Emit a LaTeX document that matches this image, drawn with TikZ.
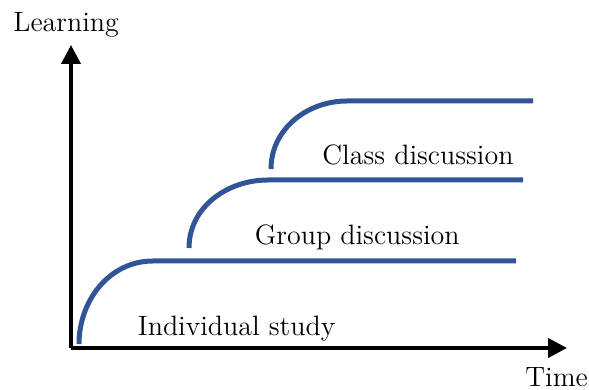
\documentclass[tikz,border=0pt]{standalone}
\usepackage{tikz}
\usetikzlibrary{arrows.meta}
\definecolor{curveblue}{RGB}{47,85,151}
\tikzset{
    axis/.style={
        draw=black,
        line width=2pt, % 坐标轴加粗
        -{Triangle[length=9.5pt,width=9.5pt]}
    },
    curve/.style={
        draw=curveblue, % 曲线颜色
        line width=2.5pt
    },
    label/.style={
        inner sep=0,
        anchor=base west,
        font=\fontsize{14}{16}\selectfont
    }
}
\begin{document}
\begin{tikzpicture}[x=0.5pt,y=0.5pt]
    \useasboundingbox (0,0) rectangle (589,390);
    % 坐标轴
    \coordinate (origin) at (71,42);
    \coordinate (ytop) at (71,345);
    \coordinate (xend) at (567,42);
    \draw[axis] (origin) -- (ytop);
    \draw[axis] (origin) -- (xend);
    \node[label] (learning) at (13,358) {Learning};
    \node[label] (time) at (525,3) {Time};
    % 三条学习曲线
    \coordinate (indiv start) at (79,46);
    \coordinate (indiv knee) at (153,129);
    \coordinate (indiv end) at (516,129);
    \coordinate (group start) at (189,142);
    \coordinate (group knee) at (268,210);
    \coordinate (group end) at (523,210);
    \coordinate (class start) at (271,221);
    \coordinate (class knee) at (347,289);
    \coordinate (class end) at (533,289);
    \draw[curve] (indiv start) to[out=90,in=180] (indiv knee) -- (indiv end);
    \draw[curve] (group start) to[out=90,in=180] (group knee) -- (group end);
    \draw[curve] (class start) to[out=90,in=180] (class knee) -- (class end);
    \node[label] (indiv) at (137.5,54) {Individual study};
    \node[label] (group) at (254.5,145) {Group discussion};
    \node[label] (class) at (322,225) {Class discussion};
\end{tikzpicture}
\end{document}
